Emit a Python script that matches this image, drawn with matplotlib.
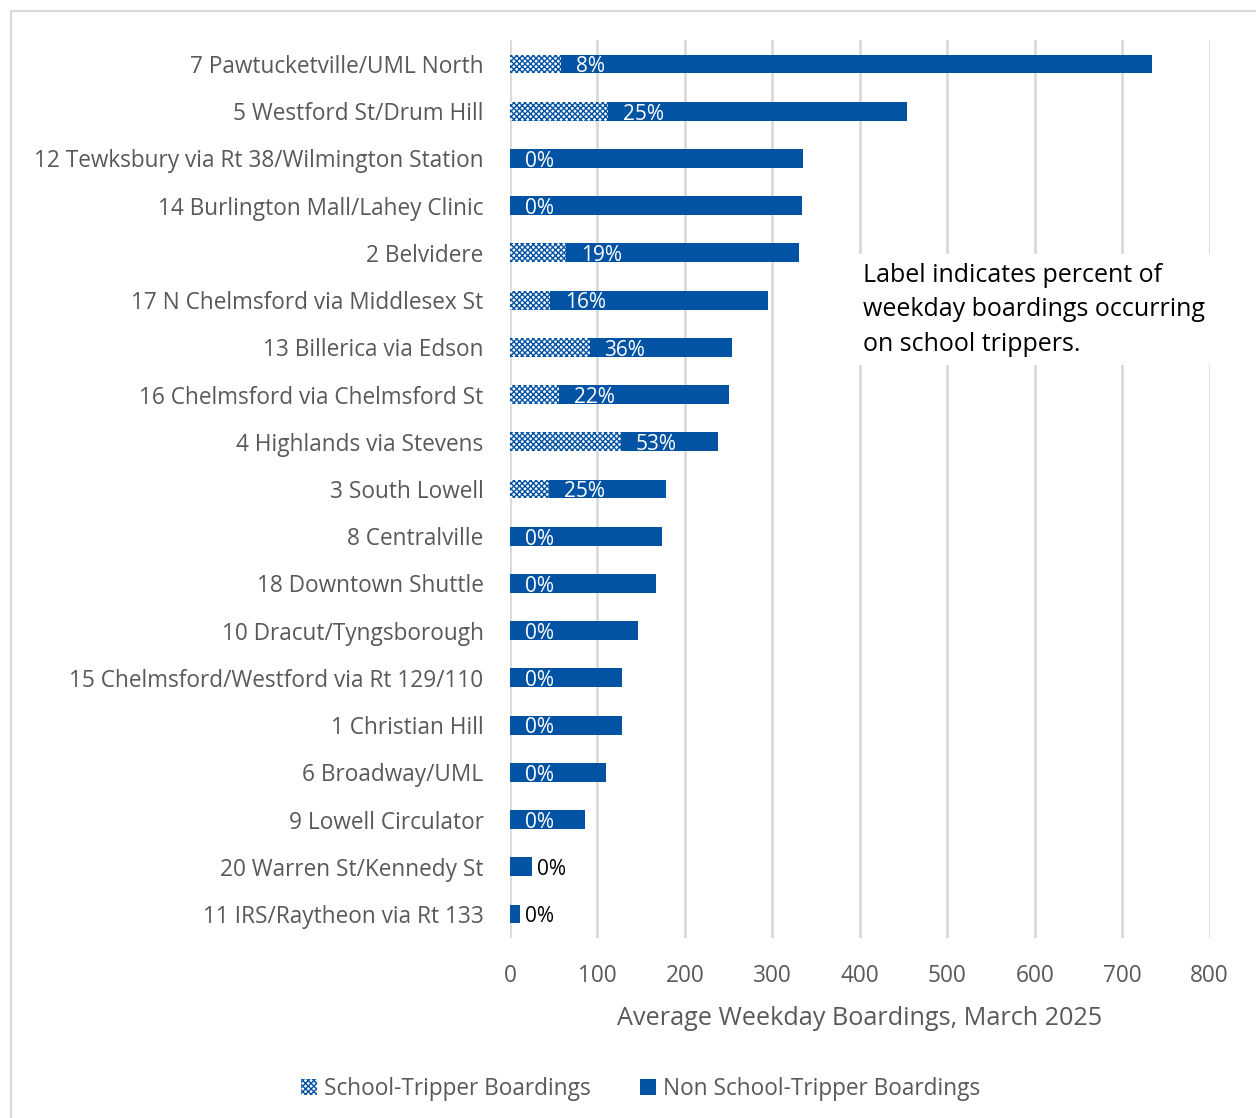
import numpy as np
import matplotlib.pyplot as plt
from matplotlib.patches import Rectangle, Patch

plt.rcParams['font.family'] = ['Open Sans', 'DejaVu Sans']
plt.rcParams['hatch.linewidth'] = 1.0

routes = [
    '7 Pawtucketville/UML North',
    '5 Westford St/Drum Hill',
    '12 Tewksbury via Rt 38/Wilmington Station',
    '14 Burlington Mall/Lahey Clinic',
    '2 Belvidere',
    '17 N Chelmsford via Middlesex St',
    '13 Billerica via Edson',
    '16 Chelmsford via Chelmsford St',
    '4 Highlands via Stevens',
    '3 South Lowell',
    '8 Centralville',
    '18 Downtown Shuttle',
    '10 Dracut/Tyngsborough',
    '15 Chelmsford/Westford via Rt 129/110',
    '1 Christian Hill',
    '6 Broadway/UML',
    '9 Lowell Circulator',
    '20 Warren St/Kennedy St',
    '11 IRS/Raytheon via Rt 133',
]
school = [58, 112, 0, 0, 64, 46, 91, 56, 127, 45, 0, 0, 0, 0, 0, 0, 0, 0, 0]
non_school = [676, 342, 335, 334, 267, 249, 163, 195, 111, 134,
              174, 167, 147, 128, 128, 110, 86, 25, 11]

school = np.array(school)
non_school = np.array(non_school)
total = school + non_school
pct = np.round(100 * school / total).astype(int)

blue = '#0353A4'
grey_txt = '#595959'

fig = plt.figure(figsize=(12.56, 11.18), dpi=100)
ax = fig.add_axes([0.406, 0.1614, 0.557, 0.8025])

y = np.arange(len(routes))
h = 0.4
ax.barh(y, school, height=h, color='white', edgecolor=blue, hatch='xxxxxx',
        linewidth=0, zorder=3)
ax.barh(y, non_school, left=school, height=h, color=blue, linewidth=0, zorder=3)

# percent labels: inside the solid segment, or just past the end for short bars
for i in range(len(routes)):
    if non_school[i] > 60:
        ax.text(school[i] + 17, i + 0.06, f'{pct[i]}%', color='white', fontsize=15,
                va='center', ha='left', zorder=4)
    else:
        ax.text(total[i] + 6, i + 0.06, f'{pct[i]}%', color='black', fontsize=15,
                va='center', ha='left', zorder=4)

ax.set_xlim(0, 800)
ax.set_ylim(len(routes) - 0.5, -0.5)
ax.set_xticks(np.arange(0, 801, 100))
ax.set_yticks(y)
ax.set_yticklabels(routes)
ax.tick_params(axis='both', length=0, labelsize=16.3, labelcolor=grey_txt)
ax.tick_params(axis='y', pad=19)
ax.tick_params(axis='x', pad=19)
ax.xaxis.grid(True, color='#D9D9D9', linewidth=2, zorder=0)
ax.set_axisbelow(True)
for s in ax.spines.values():
    s.set_visible(False)
ax.set_xlabel('Average Weekday Boardings, March 2025', fontsize=18.2,
              color=grey_txt, labelpad=13)

ax.text(0.504, 0.7, 'Label indicates percent of\nweekday boardings occurring\non school trippers.',
        transform=ax.transAxes, fontsize=18, color='black', va='center', ha='left',
        linespacing=1.5, zorder=5,
        bbox=dict(facecolor='white', edgecolor='none', pad=6))

handles = [Patch(facecolor='white', edgecolor=blue, hatch='xxxxxx', linewidth=0),
           Patch(facecolor=blue, linewidth=0)]
fig.legend(handles, ['School-Tripper Boardings', 'Non School-Tripper Boardings'],
           loc='center', bbox_to_anchor=(0.51, 0.026), ncol=2, frameon=False,
           fontsize=16.3, labelcolor=grey_txt, handlelength=0.7, handleheight=0.7,
           handletextpad=0.3, columnspacing=2.2)

# outer chart frame
fig.patches.append(Rectangle((11 / 1256, -0.1), 1.2, 1 - 11 / 1118 + 0.1,
                             transform=fig.transFigure, fill=False,
                             edgecolor='#D9D9D9', linewidth=1.5))

fig.savefig('out.png', dpi=100)
